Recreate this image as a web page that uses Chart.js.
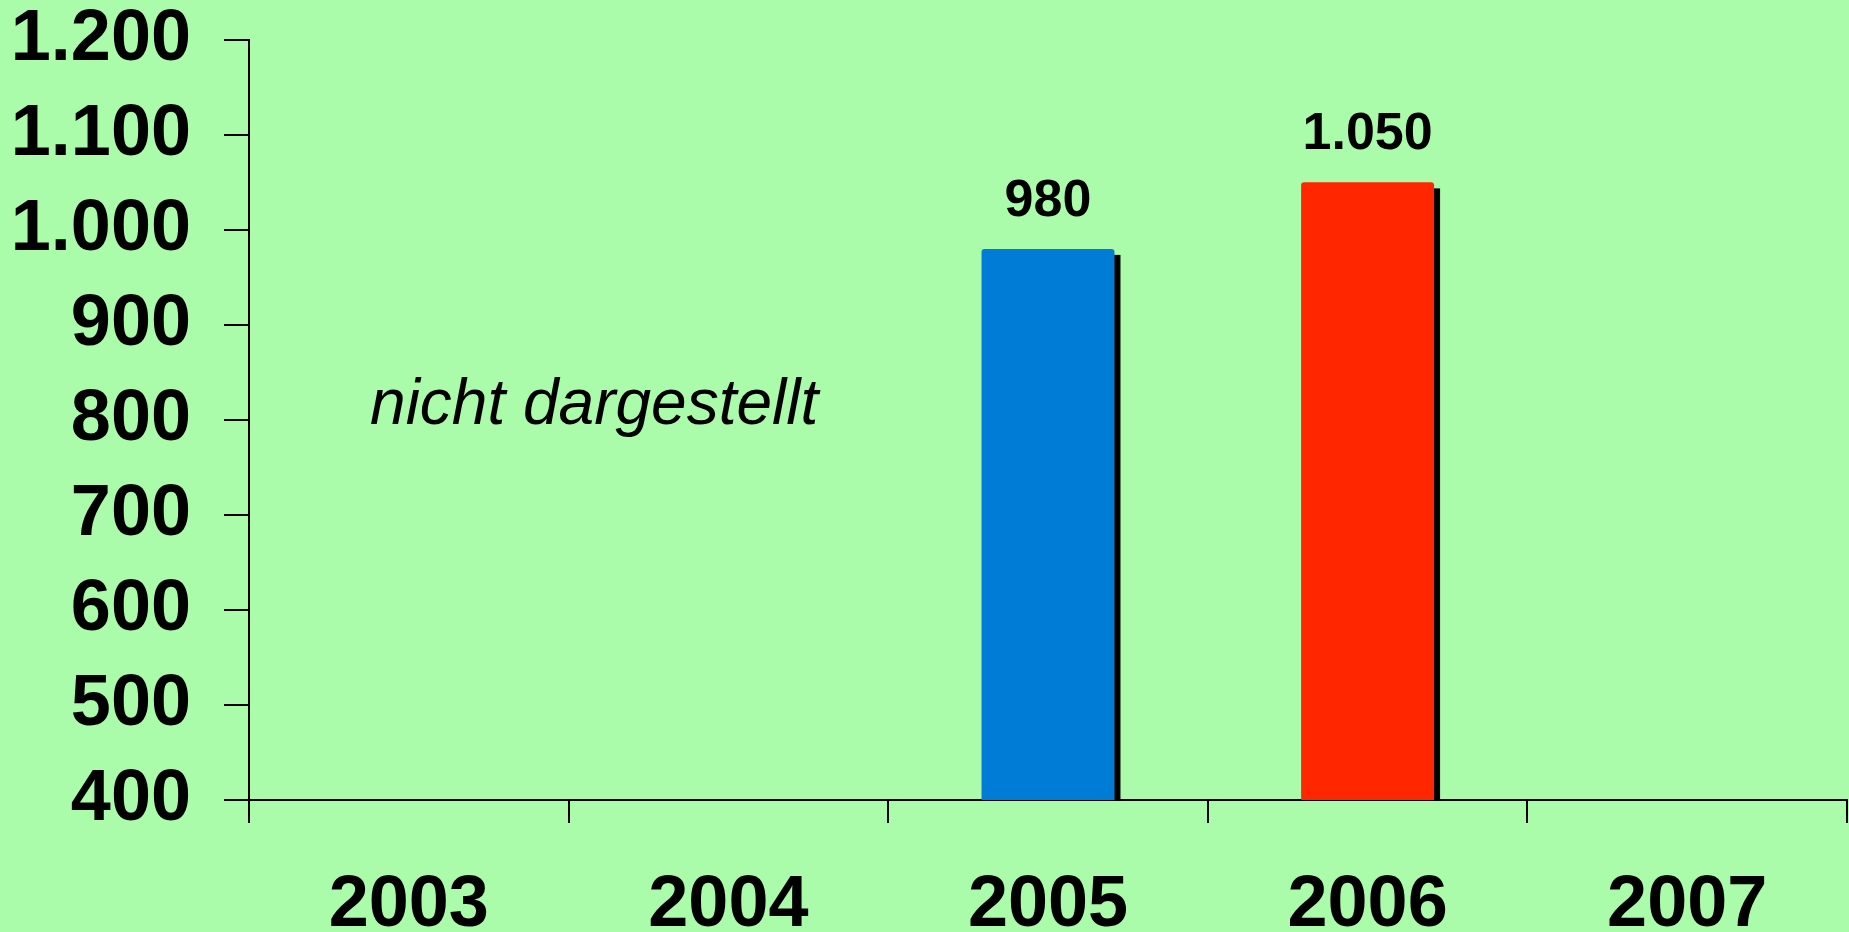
<!DOCTYPE html>
<html>
<head>
<meta charset="utf-8">
<script src="https://cdn.jsdelivr.net/npm/chart.js@4/dist/chart.umd.min.js"></script>
<style>
  html, body { margin: 0; padding: 0; background: #aafcaa; overflow: hidden; }
  #wrap { width: 1849px; height: 932px; }
</style>
</head>
<body>
<div id="wrap"><canvas id="barChart"></canvas></div>
<script>
const years = ['2003', '2004', '2005', '2006', '2007'];
const values = [null, null, 980, 1050, null];
const barColors = ['#0079d6', '#0079d6', '#007cd6', '#ff2600', '#ff2600'];
const yTicks = [400, 500, 600, 700, 800, 900, 1000, 1100, 1200];
const noteText = 'nicht dargestellt';
const noteAt = [0.58, 796]; // category index, value

const FONT = "'Liberation Sans', Arial, sans-serif";

function fmtDe(v){ return String(v).replace(/\B(?=(\d{3})+(?!\d))/g, '.'); }

// black drop shadow behind each bar, offset right/down
const barShadow = {
    id: 'barShadow',
    beforeDatasetsDraw(chart){
        const { ctx, chartArea } = chart;
        ctx.save();
        ctx.beginPath();
        ctx.rect(chartArea.left, chartArea.top, chartArea.right - chartArea.left, chartArea.bottom - chartArea.top);
        ctx.clip();
        ctx.fillStyle = '#000';
        chart.getDatasetMeta(0).data.forEach((bar, i) => {
            if (values[i] == null) return;
            const p = bar.getProps(['x', 'y', 'base', 'width'], true);
            ctx.fillRect(p.x - p.width / 2 + 6, p.y + 6, p.width, p.base - p.y);
        });
        ctx.restore();
    }
};

// value labels over bars + the note text
const labelsPlugin = {
    id: 'labelsPlugin',
    afterDatasetsDraw(chart){
        const { ctx, scales: { x, y } } = chart;
        ctx.save();
        ctx.fillStyle = '#000';
        ctx.textAlign = 'center';
        ctx.textBaseline = 'alphabetic';
        ctx.font = 'bold 52px ' + FONT;
        chart.getDatasetMeta(0).data.forEach((bar, i) => {
            if (values[i] == null) return;
            ctx.fillText(fmtDe(values[i]), bar.x, bar.y - 33);
        });
        ctx.font = 'italic 64px ' + FONT;
        ctx.fillText(noteText, x.getPixelForValue(noteAt[0]), y.getPixelForValue(noteAt[1]));
        ctx.restore();
    }
};

const ctx = document.getElementById('barChart').getContext('2d');
new Chart(ctx, {
    type: 'bar',
    data: {
        labels: years,
        datasets: [{
            data: values,
            backgroundColor: barColors,
            borderWidth: 0,
            borderRadius: 3,
            categoryPercentage: 1,
            barPercentage: 0.416
        }]
    },
    options: {
        responsive: true,
        maintainAspectRatio: false,
        animation: false,
        layout: { padding: { top: 0, right: 2, left: 0, bottom: 0 } },
        plugins: { legend: { display: false }, tooltip: { enabled: false } },
        scales: {
            x: {
                z: 1,
                offset: true,
                grid: { offset: true, drawOnChartArea: false, drawTicks: true, tickLength: 23, color: '#000', lineWidth: 2 },
                border: { color: '#000', width: 2 },
                ticks: { color: '#000', padding: 40, font: { family: FONT, size: 72, weight: 'bold' } },
                afterFit(scale){ scale.height = 132; }
            },
            y: {
                z: 1,
                min: 400,
                max: 1200,
                afterBuildTicks(scale){ scale.ticks = yTicks.map(v => ({ value: v })); },
                grid: { drawOnChartArea: false, drawTicks: true, tickLength: 25, color: '#000', lineWidth: 2 },
                border: { color: '#000', width: 2 },
                ticks: { color: '#000', padding: 33, callback: v => fmtDe(v), font: { family: FONT, size: 72, weight: 'bold', lineHeight: 0.19 } },
                afterFit(scale){ scale.width = 249; }
            }
        }
    },
    plugins: [barShadow, labelsPlugin]
});
</script>
</body>
</html>
